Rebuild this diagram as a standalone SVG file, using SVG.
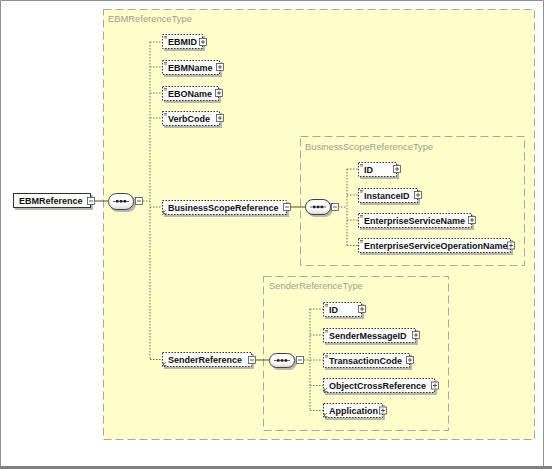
<svg xmlns="http://www.w3.org/2000/svg" width="552" height="469" viewBox="0 0 552 469">
<defs>
<style>
.typebox{fill:#FFFFCC;stroke:#A8A8A0;stroke-width:1;stroke-dasharray:8 4}
.tlabel{font-family:"Liberation Sans",Arial,sans-serif;font-size:9.4px;fill:#A0A090}
.shadow{fill:#B8B8B0}
.box{fill:#FFFFFF;stroke:#303030;stroke-width:1;stroke-dasharray:1.5 1.5}
.solidbox{fill:#FFFFFF;stroke:#303030;stroke-width:1}
.lbl{font-family:"Liberation Sans",Arial,sans-serif;font-size:9px;font-weight:bold;fill:#101010}
.icon{fill:#FFFFFF;stroke:#505050;stroke-width:0.8}
.iconmark{stroke:#303030;stroke-width:0.8;fill:none}
.dots{stroke:#707050;stroke-width:1;fill:none;stroke-dasharray:1.5 1.5}
.solid{stroke:#505030;stroke-width:1;fill:none}
.oval{fill:url(#og);stroke:#404040;stroke-width:1}
.mark{stroke:#404040;stroke-width:0.7;fill:none}
</style>
<linearGradient id="og" x1="0" y1="0" x2="0" y2="1">
<stop offset="0" stop-color="#FFFFFF"/>
<stop offset="0.6" stop-color="#FFFFFF"/>
<stop offset="1" stop-color="#D8D8D8"/>
</linearGradient>
</defs>
<rect x="0" y="0" width="552" height="469" fill="#FFFFFF"/>
<path d="M0.5 466 V0.5 H543.5 V466" fill="none" stroke="#909090" stroke-width="1"/>
<rect x="0" y="466" width="552" height="3" fill="#808080"/>

<g id="EBMReferenceType">
<rect class="typebox" x="103.5" y="9.5" width="431" height="430"/>
<text class="tlabel" x="108" y="22">EBMReferenceType</text>
</g>
<g id="BusinessScopeReferenceType">
<rect class="typebox" x="300.5" y="136.5" width="224" height="129"/>
<text class="tlabel" x="305" y="150">BusinessScopeReferenceType</text>
</g>
<g id="SenderReferenceType">
<rect class="typebox" x="263.5" y="276.5" width="185" height="154"/>
<text class="tlabel" x="269" y="289">SenderReferenceType</text>
</g>

<g id="connectors">
<line class="solid" x1="94.5" y1="201" x2="108" y2="201"/>
<line class="dots" x1="143" y1="201" x2="150" y2="201"/>
<line class="dots" x1="150" y1="42" x2="150" y2="360"/>
<line class="dots" x1="150" y1="42" x2="162" y2="42"/>
<line class="dots" x1="150" y1="67" x2="162" y2="67"/>
<line class="dots" x1="150" y1="93" x2="162" y2="93"/>
<line class="dots" x1="150" y1="118" x2="162" y2="118"/>
<line class="dots" x1="150" y1="207" x2="162" y2="207"/>
<line class="dots" x1="150" y1="359.5" x2="162" y2="359.5"/>
<line class="solid" x1="290.5" y1="207" x2="305" y2="207"/>
<line class="dots" x1="338" y1="207" x2="347" y2="207"/>
<line class="dots" x1="347" y1="169" x2="347" y2="246"/>
<line class="dots" x1="347" y1="169" x2="358" y2="169"/>
<line class="dots" x1="347" y1="195" x2="358" y2="195"/>
<line class="dots" x1="347" y1="220" x2="358" y2="220"/>
<line class="dots" x1="347" y1="245.5" x2="358" y2="245.5"/>
<line class="solid" x1="255.5" y1="360" x2="269" y2="360"/>
<line class="dots" x1="304" y1="360" x2="310" y2="360"/>
<line class="dots" x1="310" y1="309" x2="310" y2="411"/>
<line class="dots" x1="310" y1="309" x2="323" y2="309"/>
<line class="dots" x1="310" y1="335" x2="323" y2="335"/>
<line class="dots" x1="310" y1="360" x2="323" y2="360"/>
<line class="dots" x1="310" y1="385.5" x2="323" y2="385.5"/>
<line class="dots" x1="310" y1="410.5" x2="323" y2="410.5"/>
</g>

<g id="EBMReference">
<rect class="shadow" x="15" y="195" width="78" height="15"/>
<rect class="solidbox" x="13.5" y="193.5" width="77" height="14"/>
<text class="lbl" x="19" y="204">EBMReference</text>
<rect class="icon" x="87.5" y="197.5" width="7" height="7"/>
<path class="iconmark" d="M89 201 H93"/>
</g>

<g id="seq1">
<rect class="shadow" x="110" y="195" width="26" height="17" rx="8"/>
<rect class="oval" x="108.5" y="193.5" width="25" height="16" rx="8"/>
<path d="M113 201.5 H129" stroke="#404040" stroke-width="0.8"/>
<rect x="116" y="200" width="2.5" height="2.5" fill="#202020"/>
<rect x="119.8" y="200" width="2.5" height="2.5" fill="#202020"/>
<rect x="123.6" y="200" width="2.5" height="2.5" fill="#202020"/>
<rect class="icon" x="135.5" y="197.5" width="7" height="7"/>
<path class="iconmark" d="M137 201 H141"/>
</g>

<g id="EBMID">
<rect class="shadow" x="164" y="36" width="41" height="15"/>
<rect class="box" x="162.5" y="34.5" width="40" height="14"/>
<path class="mark" d="M164 36.5 H167 M164 38 H167"/>
<text class="lbl" x="168" y="45">EBMID</text>
<rect class="icon" x="199.5" y="38.5" width="7" height="7"/>
<path class="iconmark" d="M201 42 H205 M203 40 V44"/>
</g>
<g id="EBMName">
<rect class="shadow" x="164" y="62" width="58" height="15"/>
<rect class="box" x="162.5" y="60.5" width="57" height="14"/>
<path class="mark" d="M164 62.5 H167 M164 64 H167"/>
<text class="lbl" x="168" y="71">EBMName</text>
<rect class="icon" x="216.5" y="63.5" width="7" height="7"/>
<path class="iconmark" d="M218 67 H222 M220 65 V69"/>
</g>
<g id="EBOName">
<rect class="shadow" x="164" y="88" width="57" height="15"/>
<rect class="box" x="162.5" y="86.5" width="56" height="14"/>
<path class="mark" d="M164 88.5 H167 M164 90 H167"/>
<text class="lbl" x="168" y="97">EBOName</text>
<rect class="icon" x="215.5" y="89.5" width="7" height="7"/>
<path class="iconmark" d="M217 93 H221 M219 91 V95"/>
</g>
<g id="VerbCode">
<rect class="shadow" x="164" y="113" width="58" height="15"/>
<rect class="box" x="162.5" y="111.5" width="57" height="14"/>
<path class="mark" d="M164 113.5 H167 M164 115 H167"/>
<text class="lbl" x="168" y="122">VerbCode</text>
<rect class="icon" x="216.5" y="114.5" width="7" height="7"/>
<path class="iconmark" d="M218 118 H222 M220 116 V120"/>
</g>
<g id="BusinessScopeReference">
<rect class="shadow" x="164" y="202" width="125" height="15"/>
<rect class="box" x="162.5" y="200.5" width="124" height="14"/>
<path class="mark" d="M163 213 L166 210 M163.5 210.5 V213.5 H166.5"/>
<text class="lbl" x="168" y="211">BusinessScopeReference</text>
<rect class="icon" x="283.5" y="203.5" width="7" height="7"/>
<path class="iconmark" d="M285 207 H289"/>
</g>
<g id="SenderReference">
<rect class="shadow" x="164" y="354" width="90" height="15"/>
<rect class="box" x="162.5" y="352.5" width="89" height="14"/>
<path class="mark" d="M163 365 L166 362 M163.5 362.5 V365.5 H166.5"/>
<text class="lbl" x="168" y="363">SenderReference</text>
<rect class="icon" x="248.5" y="356.5" width="7" height="7"/>
<path class="iconmark" d="M250 360 H254"/>
</g>

<g id="seq2">
<rect class="shadow" x="307" y="201" width="26" height="16" rx="8"/>
<rect class="oval" x="305.5" y="199.5" width="25" height="15" rx="7.5"/>
<path d="M310 207 H326" stroke="#404040" stroke-width="0.8"/>
<rect x="313" y="205.7" width="2.5" height="2.5" fill="#202020"/>
<rect x="316.8" y="205.7" width="2.5" height="2.5" fill="#202020"/>
<rect x="320.6" y="205.7" width="2.5" height="2.5" fill="#202020"/>
<rect class="icon" x="331.5" y="203.5" width="7" height="7"/>
<path class="iconmark" d="M333 207 H337"/>
</g>

<g id="BSR_ID">
<rect class="shadow" x="360" y="164" width="39" height="15"/>
<rect class="box" x="358.5" y="162.5" width="38" height="14"/>
<path class="mark" d="M360 164.5 H363 M360 166 H363"/>
<text class="lbl" x="364" y="173">ID</text>
<rect class="icon" x="393.5" y="165.5" width="7" height="7"/>
<path class="iconmark" d="M395 169 H399 M397 167 V171"/>
</g>
<g id="InstanceID">
<rect class="shadow" x="360" y="190" width="60" height="15"/>
<rect class="box" x="358.5" y="188.5" width="59" height="14"/>
<path class="mark" d="M360 190.5 H363 M360 192 H363"/>
<text class="lbl" x="364" y="199">InstanceID</text>
<rect class="icon" x="414.5" y="191.5" width="7" height="7"/>
<path class="iconmark" d="M416 195 H420 M418 193 V197"/>
</g>
<g id="EnterpriseServiceName">
<rect class="shadow" x="360" y="215" width="114" height="15"/>
<rect class="box" x="358.5" y="213.5" width="113" height="14"/>
<path class="mark" d="M360 215.5 H363 M360 217 H363"/>
<text class="lbl" x="364" y="224">EnterpriseServiceName</text>
<rect class="icon" x="468.5" y="216.5" width="7" height="7"/>
<path class="iconmark" d="M470 220 H474 M472 218 V222"/>
</g>
<g id="EnterpriseServiceOperationName">
<rect class="shadow" x="360" y="240" width="153" height="15"/>
<rect class="box" x="358.5" y="238.5" width="152" height="14"/>
<path class="mark" d="M360 240.5 H363 M360 242 H363"/>
<text class="lbl" x="364" y="249">EnterpriseServiceOperationName</text>
<rect class="icon" x="507.5" y="242" width="7" height="7"/>
<path class="iconmark" d="M509 245.5 H513 M511 243.5 V247.5"/>
</g>

<g id="seq3">
<rect class="shadow" x="271" y="355" width="26" height="15" rx="7.5"/>
<rect class="oval" x="269.5" y="353.5" width="25" height="14" rx="7"/>
<path d="M274 360.5 H290" stroke="#404040" stroke-width="0.8"/>
<rect x="277" y="359.2" width="2.5" height="2.5" fill="#202020"/>
<rect x="280.8" y="359.2" width="2.5" height="2.5" fill="#202020"/>
<rect x="284.6" y="359.2" width="2.5" height="2.5" fill="#202020"/>
<rect class="icon" x="296.5" y="356.5" width="7" height="7"/>
<path class="iconmark" d="M298 360 H302"/>
</g>

<g id="SR_ID">
<rect class="shadow" x="325" y="304" width="39" height="15"/>
<rect class="box" x="323.5" y="302.5" width="38" height="14"/>
<path class="mark" d="M325 304.5 H328 M325 306 H328"/>
<text class="lbl" x="329" y="313">ID</text>
<rect class="icon" x="358.5" y="305.5" width="7" height="7"/>
<path class="iconmark" d="M360 309 H364 M362 307 V311"/>
</g>
<g id="SenderMessageID">
<rect class="shadow" x="325" y="330" width="93" height="15"/>
<rect class="box" x="323.5" y="328.5" width="92" height="14"/>
<path class="mark" d="M325 330.5 H328 M325 332 H328"/>
<text class="lbl" x="329" y="339">SenderMessageID</text>
<rect class="icon" x="412.5" y="331.5" width="7" height="7"/>
<path class="iconmark" d="M414 335 H418 M416 333 V337"/>
</g>
<g id="TransactionCode">
<rect class="shadow" x="325" y="355" width="87" height="15"/>
<rect class="box" x="323.5" y="353.5" width="86" height="14"/>
<path class="mark" d="M325 355.5 H328 M325 357 H328"/>
<text class="lbl" x="329" y="364">TransactionCode</text>
<rect class="icon" x="406.5" y="356.5" width="7" height="7"/>
<path class="iconmark" d="M408 360 H412 M410 358 V362"/>
</g>
<g id="ObjectCrossReference">
<rect class="shadow" x="325" y="380" width="112" height="15"/>
<rect class="box" x="323.5" y="378.5" width="111" height="14"/>
<path class="mark" d="M324 391 L327 388 M324.5 388.5 V391.5 H327.5"/>
<text class="lbl" x="329" y="389">ObjectCrossReference</text>
<rect class="icon" x="431.5" y="382" width="7" height="7"/>
<path class="iconmark" d="M433 385.5 H437 M435 383.5 V387.5"/>
</g>
<g id="Application">
<rect class="shadow" x="325" y="405" width="60" height="15"/>
<rect class="box" x="323.5" y="403.5" width="59" height="14"/>
<path class="mark" d="M324 416 L327 413 M324.5 413.5 V416.5 H327.5"/>
<text class="lbl" x="329" y="414">Application</text>
<rect class="icon" x="379.5" y="407" width="7" height="7"/>
<path class="iconmark" d="M381 410.5 H385 M383 408.5 V412.5"/>
</g>
</svg>
